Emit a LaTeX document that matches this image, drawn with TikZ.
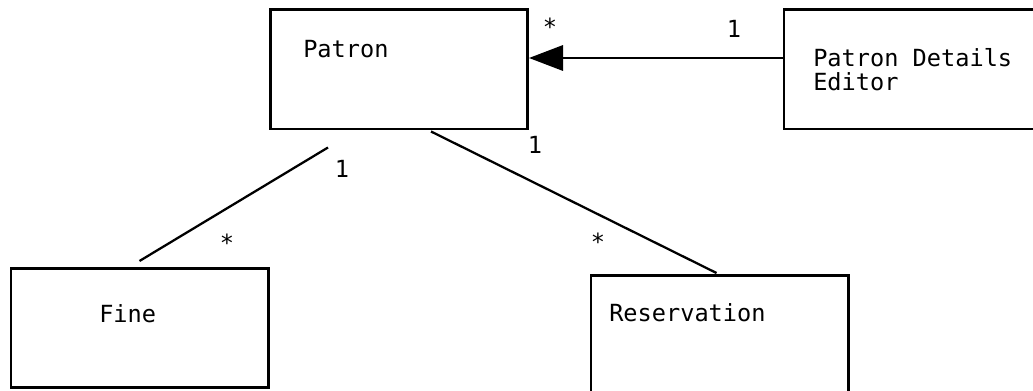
\documentclass[tikz,border=0pt]{standalone}
\usepackage{fontspec}
\newfontfamily\umlmono{DejaVu Sans Mono}
\usetikzlibrary{arrows.meta,calc}
\begin{document}
\begin{tikzpicture}[x=0.75pt,y=-0.75pt,
  cls/.style={draw,line width=2pt,inner sep=0pt,minimum width=193pt,minimum height=89.5pt},
  txt/.style={font=\umlmono\fontsize{17.7}{18}\selectfont,inner sep=0pt,anchor=base west},
  mult/.style={font=\umlmono\fontsize{17.7}{18}\selectfont,inner sep=0pt,anchor=base},
  assoc/.style={line width=1.7pt}]
\clip (0,0) rectangle (1033,391);
\fill[white] (0,0) rectangle (1033,391);
% classes
\node[cls] (patron) at (399,69.5) {};
\node[cls,minimum width=200pt] (pde) at (917.3,69.25) {};
\node[cls] (fine) at (139.5,328) {};
\node[cls] (res) at (719.5,335) {};
% class names
\node[txt] (tpatron) at (303,58) {Patron};
\node[txt] (tpde1) at (813,67) {Patron Details};
\node[txt] (tpde2) at (813,91) {Editor};
\node[txt] (tfine) at (99,323) {Fine};
\node[txt] (tres) at (609,322) {Reservation};
% connectors
\draw[assoc,-{Triangle[length=25.5pt,width=19pt]}] ($(pde.west)+(0,-11.25)$) -- ($(patron.east)+(0,-11.5)$);
\coordinate (fa) at ($(patron.south west)+(59,17)$);
\coordinate (fb) at ($(fine.north west)+(130,-6)$);
\draw[assoc] (fa) -- (fb);
\coordinate (ra) at ($(patron.south west)+(162,1)$);
\coordinate (rb) at ($(res.north west)+(127,-1)$);
\draw[assoc] (ra) -- (rb);
% multiplicities
\node[mult] (m1) at (550,36) {*};
\node[mult] (m2) at (734,38) {1};
\node[mult] (m3) at (342,178) {1};
\node[mult] (m4) at (227,252) {*};
\node[mult] (m5) at (535,154) {1};
\node[mult] (m6) at (598,251) {*};
\end{tikzpicture}
\end{document}
